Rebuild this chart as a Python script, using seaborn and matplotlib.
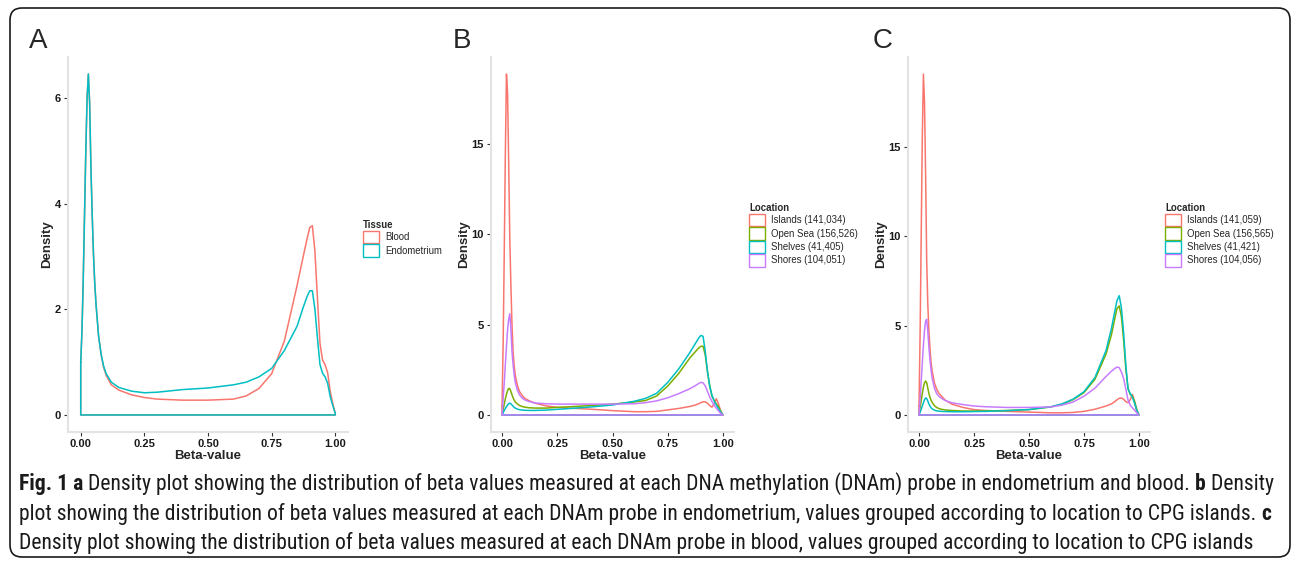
import pandas as pd
import matplotlib
matplotlib.use('Agg')
import matplotlib.pyplot as plt
import seaborn as sns
from matplotlib.patches import Patch, FancyBboxPatch
from matplotlib import font_manager

# Data: density curves, on a shared beta-value grid
beta = [0, 0.005, 0.01, 0.015, 0.02, 0.025, 0.03, 0.035, 0.04, 0.045,
        0.05, 0.055, 0.06, 0.07, 0.08, 0.09, 0.1, 0.12, 0.15, 0.2,
        0.25, 0.3, 0.4, 0.5, 0.6, 0.65, 0.7, 0.75, 0.8, 0.85,
        0.875, 0.89, 0.9, 0.91, 0.92, 0.93, 0.94, 0.95, 0.96, 0.97,
        0.98, 0.99, 1.0]

# panel A: tissue
blood = [1.0, 1.6, 2.6, 3.8, 5.0, 6.0, 6.45, 5.9, 4.7, 3.8,
         3.05, 2.5, 2.1, 1.5, 1.15, 0.9, 0.75, 0.57, 0.47, 0.38,
         0.33, 0.30, 0.28, 0.28, 0.30, 0.36, 0.50, 0.78, 1.40, 2.45,
         3.02, 3.35, 3.55, 3.58, 3.1, 2.2, 1.35, 1.04, 0.95, 0.8,
         0.45, 0.22, 0.03]
endometrium = [1.0, 1.6, 2.6, 3.8, 5.0, 6.0, 6.45, 5.9, 4.7, 3.8,
               3.05, 2.5, 2.1, 1.5, 1.15, 0.92, 0.78, 0.62, 0.52, 0.45,
               0.42, 0.43, 0.48, 0.51, 0.57, 0.62, 0.72, 0.88, 1.22, 1.68,
               2.05, 2.25, 2.35, 2.35, 2.0, 1.45, 0.95, 0.79, 0.72, 0.6,
               0.35, 0.18, 0.03]

# panel B: endometrium by CpG location
islands_endo = [0.5, 4.0, 9.0, 14.5, 18.86, 17.8, 14.0, 9.8, 7.2, 5.0,
                3.5, 2.7, 2.2, 1.6, 1.28, 1.1, 0.95, 0.8, 0.65, 0.5,
                0.42, 0.38, 0.32, 0.24, 0.18, 0.18, 0.2, 0.28, 0.36, 0.47,
                0.55, 0.62, 0.68, 0.73, 0.72, 0.65, 0.52, 0.43, 0.6, 0.9,
                0.6, 0.2, 0.0]
open_sea_endo = [0, 0.3, 0.6, 0.9, 1.15, 1.35, 1.47, 1.45, 1.3, 1.12,
                 0.95, 0.82, 0.72, 0.6, 0.52, 0.47, 0.44, 0.4, 0.38, 0.38,
                 0.42, 0.45, 0.52, 0.6, 0.72, 0.8, 1.05, 1.6, 2.3, 3.15,
                 3.5, 3.7, 3.8, 3.8, 3.3, 2.4, 1.6, 1.05, 0.8, 0.6,
                 0.45, 0.2, 0.0]
shelves_endo = [0, 0.12, 0.25, 0.36, 0.46, 0.55, 0.62, 0.65, 0.62, 0.55,
                0.48, 0.42, 0.38, 0.32, 0.29, 0.27, 0.26, 0.25, 0.25, 0.27,
                0.31, 0.35, 0.44, 0.55, 0.76, 0.92, 1.2, 1.8, 2.55, 3.45,
                3.95, 4.25, 4.4, 4.35, 3.5, 2.4, 1.6, 1.1, 0.78, 0.55,
                0.35, 0.15, 0.0]
shores_endo = [0, 0.9, 1.8, 2.8, 3.8, 4.7, 5.3, 5.6, 4.8, 3.5,
               2.8, 2.2, 1.8, 1.35, 1.1, 0.95, 0.85, 0.75, 0.66, 0.62,
               0.6, 0.6, 0.6, 0.6, 0.62, 0.68, 0.78, 0.95, 1.18, 1.45,
               1.62, 1.74, 1.8, 1.78, 1.6, 1.3, 1.0, 0.75, 0.52, 0.38,
               0.22, 0.08, 0.0]

# panel C: blood by CpG location
islands_blood = [0.5, 4.5, 10.0, 15.5, 19.07, 17.5, 13.5, 8.6, 6.2, 4.7,
                 3.7, 2.9, 2.45, 1.8, 1.45, 1.22, 1.08, 0.82, 0.6, 0.42,
                 0.3, 0.25, 0.2, 0.16, 0.12, 0.12, 0.14, 0.2, 0.32, 0.5,
                 0.62, 0.75, 0.85, 0.93, 0.95, 0.88, 0.75, 0.68, 0.85, 1.15,
                 0.75, 0.2, 0.0]
open_sea_blood = [0, 0.4, 0.8, 1.2, 1.55, 1.8, 1.9, 1.8, 1.5, 1.2,
                  0.98, 0.82, 0.7, 0.52, 0.42, 0.36, 0.32, 0.28, 0.25, 0.22,
                  0.22, 0.22, 0.25, 0.3, 0.45, 0.6, 0.85, 1.25, 2.0, 3.4,
                  4.5, 5.4, 5.95, 6.1, 5.5, 4.2, 2.6, 1.5, 1.15, 1.05,
                  0.75, 0.3, 0.0]
shelves_blood = [0, 0.15, 0.32, 0.5, 0.68, 0.85, 0.95, 0.92, 0.78, 0.62,
                 0.5, 0.4, 0.34, 0.27, 0.23, 0.21, 0.2, 0.19, 0.18, 0.18,
                 0.19, 0.2, 0.24, 0.3, 0.46, 0.62, 0.88, 1.3, 2.1, 3.6,
                 4.85, 5.8, 6.4, 6.67, 6.0, 4.6, 2.8, 1.45, 1.2, 1.0,
                 0.65, 0.25, 0.0]
shores_blood = [0, 0.9, 1.9, 2.9, 3.9, 4.7, 5.25, 5.35, 4.7, 3.8,
                3.06, 2.5, 2.05, 1.5, 1.2, 1.05, 0.95, 0.8, 0.68, 0.58,
                0.5, 0.46, 0.42, 0.42, 0.45, 0.55, 0.72, 1.05, 1.5, 2.15,
                2.45, 2.6, 2.68, 2.65, 2.4, 2.05, 1.45, 0.85, 0.55, 0.4,
                0.27, 0.12, 0.0]

tissue_labels = ['Blood', 'Endometrium']
location_labels_endo = ['Islands (141,034)', 'Open Sea (156,526)',
                        'Shelves (41,405)', 'Shores (104,051)']
location_labels_blood = ['Islands (141,059)', 'Open Sea (156,565)',
                         'Shelves (41,421)', 'Shores (104,056)']
x_ticks = [0, 0.25, 0.5, 0.75, 1.0]

tissue_colors = ['#F8766D', '#00BFC4']
location_colors = ['#F8766D', '#7CAE00', '#00BFC4', '#C77CFF']

caption = [
    [('Fig. 1 a', True),
     (' Density plot showing the distribution of beta values measured at each DNA '
      'methylation (DNAm) probe in endometrium and blood. ', False),
     ('b', True), (' Density', False)],
    [('plot showing the distribution of beta values measured at each DNAm probe in '
      'endometrium, values grouped according to location to CPG islands. ', False),
     ('c', True)],
    [('Density plot showing the distribution of beta values measured at each DNAm '
      'probe in blood, values grouped according to location to CPG islands', False)],
]

# Style
sns.set_style('white')
plt.rcParams['font.family'] = ['Liberation Sans', 'DejaVu Sans']

# caption uses a narrow face if one is installed
fonts = font_manager.fontManager.ttflist
names = {f.name for f in fonts}
cap_font, cap_stretch = 'Liberation Sans', 'normal'
for cand in ['Roboto Condensed', 'Liberation Sans Narrow', 'Open Sans Condensed',
             'Noto Sans Condensed', 'DejaVu Sans Condensed']:
    if cand in names:
        cap_font = cand
        break
else:
    for f in fonts:
        if f.name in ('Noto Sans', 'DejaVu Sans', 'Open Sans') and \
                str(f.stretch) in ('condensed', 'semi-condensed', '75', '87.5'):
            cap_font, cap_stretch = f.name, f.stretch
            break
print('caption font:', cap_font, cap_stretch)

W, H = 1292, 563
fig = plt.figure(figsize=(W / 100, H / 100), dpi=100)


def px_axes(x0, y0, x1, y1):
    return fig.add_axes([x0 / W, 1 - y1 / H, (x1 - x0) / W, (y1 - y0) / H])


def outline(series, labels):
    # geom_density outline: curve, then back along the baseline
    frames = []
    for lab, dens in zip(labels, series):
        xs = list(beta) + [beta[-1], beta[0], beta[0]]
        ys = list(dens) + [0, 0, dens[0]]
        frames.append(pd.DataFrame({'beta': xs, 'density': ys, 'group': lab}))
    return pd.concat(frames, ignore_index=True)


def density_panel(rect, series, labels, colors, yticks, letter_x,
                  legend_title, legend_xy):
    ax = px_axes(*rect)
    df = outline(series, labels)
    sns.lineplot(data=df, x='beta', y='density', hue='group', palette=colors,
                 sort=False, estimator=None, legend=False, lw=1.1, ax=ax)
    top = max(max(s) for s in series)
    ax.set_xlim(-0.05, 1.05)
    ax.set_ylim(-0.05 * top, 1.05 * top)
    ax.set_xticks(x_ticks)
    ax.set_xticklabels([f'{t:.2f}' for t in x_ticks])
    ax.set_yticks(yticks)
    ax.set_yticklabels([str(t) for t in yticks])
    ax.tick_params(length=3, width=0.8, color='#333333', labelsize=8,
                   pad=2, labelcolor='#1a1a1a', left=True, bottom=True)
    for lbl in ax.get_xticklabels() + ax.get_yticklabels():
        lbl.set_fontweight('bold')
    ax.set_xlabel('Beta-value', fontsize=9.5, fontweight='bold', labelpad=1)
    ax.set_ylabel('Density', fontsize=9.5, fontweight='bold', labelpad=1)
    for side in ['top', 'right']:
        ax.spines[side].set_visible(False)
    for side in ['left', 'bottom']:
        ax.spines[side].set_color('#e3e3e3')
        ax.spines[side].set_linewidth(1.5)

    fig.text(letter_x / W, 1 - 48 / H, legend_title[0], fontsize=20,
             va='baseline', ha='left')

    handles = [Patch(facecolor='white', edgecolor=c, lw=1.0, label=l)
               for c, l in zip(colors, labels)]
    fig.legend(handles=handles, title=legend_title[1], loc='upper left',
               bbox_to_anchor=(legend_xy[0] / W, 1 - legend_xy[1] / H),
               frameon=False, fontsize=6.9,
               title_fontproperties={'weight': 'bold', 'size': 6.9},
               handlelength=1.7, handleheight=1.65, labelspacing=0.08,
               handletextpad=0.6, borderpad=0, borderaxespad=0,
               alignment='left')
    return ax


density_panel((68, 57, 348, 432), [blood, endometrium], tissue_labels,
              tissue_colors, [0, 2, 4, 6], 29, ('A', 'Tissue'), (363, 220))
density_panel((491, 57, 734, 432),
              [islands_endo, open_sea_endo, shelves_endo, shores_endo],
              location_labels_endo, location_colors, [0, 5, 10, 15], 453,
              ('B', 'Location'), (749, 203))
density_panel((908, 57, 1150, 432),
              [islands_blood, open_sea_blood, shelves_blood, shores_blood],
              location_labels_blood, location_colors, [0, 5, 10, 15], 873,
              ('C', 'Location'), (1165, 203))

# Caption, sized so the first line fills the box width
renderer = fig.canvas.get_renderer()


def put_line(parts, y, size):
    x = 19
    texts = []
    for s, bold in parts:
        t = fig.text(x / W, 1 - y / H, s, fontsize=size, family=cap_font,
                     fontstretch=cap_stretch,
                     fontweight='bold' if bold else 'normal',
                     va='baseline', ha='left', color='#1a1a1a')
        x = t.get_window_extent(renderer).x1
        texts.append(t)
    return texts, x


probe, right = put_line(caption[0], 490, 10)
for t in probe:
    t.remove()
cap_size = 10 * (1272 - 19) / (right - 19)
for parts, y in zip(caption, [490, 520, 549]):
    put_line(parts, y, cap_size)

# rounded frame around the whole figure
frame = FancyBboxPatch((0.10, 0.06), 12.80, 5.49,
                       boxstyle='round,pad=0,rounding_size=0.12',
                       transform=fig.dpi_scale_trans, fill=False,
                       lw=1.2, ec='#1a1a1a')
fig.add_artist(frame)

fig.savefig('out.png', dpi=100)
